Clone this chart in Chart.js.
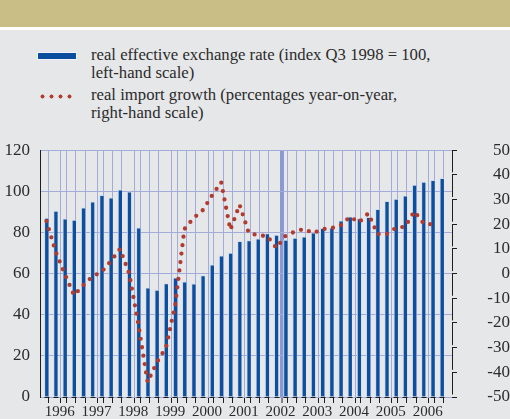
<!DOCTYPE html>
<html lang="en">
<head>
<meta charset="UTF-8" />
<title>Real effective exchange rate and real import growth</title>
<script src="https://cdn.jsdelivr.net/npm/chart.js"></script>
<style>
  html, body { margin:0; padding:0; }
  body { width:510px; height:419px; overflow:hidden; background:#e6e7e9; position:relative;
         font-family:"Liberation Serif", serif; color:#2b2b2b; }
  #band { position:absolute; left:0; top:0; width:510px; height:27px; background:#c9be86; border-bottom:3px solid #fff; }
  .key { position:absolute; left:38px; width:38px; }
  #keyBar { top:53px; height:6px; background:#0b4f9e; box-shadow:0 0 0 1px #f2f4f8; }
  #keyDots { top:94px; height:5px; background:radial-gradient(circle, #b23b30 1.7px, transparent 2.3px) 0 0 / 9px 5px repeat-x; }
  .txt { position:absolute; left:91px; font-size:16.7px; line-height:17.6px; }
  #box { position:absolute; left:0; top:130px; width:510px; height:300px; }
</style>
</head>
<body>
  <div id="band"></div>
  <div class="key" id="keyBar"></div>
  <div class="txt" style="top:46px">real effective exchange rate (index Q3 1998 = 100,<br>left-hand scale)</div>
  <div class="key" id="keyDots"></div>
  <div class="txt" style="top:86px">real import growth (percentages year-on-year,<br>right-hand scale)</div>
  <div id="box"><canvas id="c"></canvas></div>

<script>
  // quarterly data, 1996 Q1 .. 2006 Q4
  const years = ['1996','1997','1998','1999','2000','2001','2002','2003','2004','2005','2006'];
  // real effective exchange rate (left-hand scale)
  const rateIndex = [87, 90.4, 86.6, 86, 92, 94.9, 98, 96.8, 100.7, 99.8, 82.3, 53.1,
                     52, 55.2, 58, 56, 55, 59, 64.3, 68.7, 70, 75.7, 76.1, 76.9,
                     79.5, 78.7, 76.3, 77.3, 77.9, 79.8, 82, 82.3, 85.7, 87.6, 86.8, 87.3,
                     91.3, 95.2, 96.2, 97.8, 103, 104.5, 105.4, 106.3];
  // real import growth, % y-o-y (right-hand scale)
  const importGrowth = [21.3, 8.9, -0.2, -8.8, -4.7, -1.2, 0.7, 5, 10, 0, -20.7, -44,
                        -36, -30, -12.8, 18, 22.5, 25.7, 31.6, 37, 17.7, 27.9, 16.5, 15.5,
                        15.2, 10.4, 15.3, 17, 18.1, 16.4, 18, 18.4, 19.5, 23, 20.8, 24.4,
                        16, 16, 18.5, 19, 25.2, 20.4, 19.9];

  const grid = '#a3acd9';
  const ink = '#1e1e1e';
  const labelPos = 1.75;
  const isYear = v => !Number.isInteger(v);

  // the little bracket marks along the bottom and right-hand axes
  const axisMarks = {
    id: 'axisMarks',
    afterDraw(chart) {
      const { ctx, chartArea: a, scales: { x, y2 } } = chart;
      ctx.save();
      ctx.strokeStyle = ink;
      ctx.lineWidth = 1;
      ctx.beginPath();
      for (let k = 0; k < 44; k++) {
        const px = Math.round(x.getPixelForValue(k)) + 0.5;
        ctx.moveTo(px, Math.round(a.bottom) + 0.5);
        ctx.lineTo(px + 5, Math.round(a.bottom) + 0.5);
      }
      const rx = Math.round(a.right) + 0.5;
      for (let v = 50; v > -50; v -= 10) {
        ctx.moveTo(rx, y2.getPixelForValue(v));
        ctx.lineTo(rx, y2.getPixelForValue(v - 10) - 2.5);
      }
      ctx.stroke();
      ctx.restore();
    }
  };

  Chart.defaults.font.family = '"Liberation Serif", serif';
  Chart.defaults.font.size = 17;
  Chart.defaults.color = '#2b2b2b';

  new Chart(document.getElementById('c'), {
    type: 'bar',
    data: {
      datasets: [
        {
          type: 'line', yAxisID: 'y2', order: 0,
          data: importGrowth.map((v, i) => ({ x: i + 0.3, y: v })),
          borderColor: '#b23b30', borderWidth: 4.3, borderDash: [0, 8.5], borderCapStyle: 'round',
          pointRadius: 0, tension: 0, fill: false
        },
        {
          yAxisID: 'y', order: 1,
          data: rateIndex.map((v, i) => ({ x: i + 0.3, y: v })),
          backgroundColor: '#0b4f9e', borderColor: '#cddbef',
          borderWidth: { left: 1, top: 1, right: 0, bottom: 0 }, borderSkipped: false,
          barThickness: 4
        }
      ]
    },
    options: {
      responsive: true, maintainAspectRatio: false, animation: false,
      layout: { padding: { top: 20, left: 0, right: 0, bottom: 0 } },
      plugins: { legend: { display: false }, tooltip: { enabled: false } },
      scales: {
        x: {
          type: 'linear', min: 0, max: 44,
          afterBuildTicks: s => {
            const t = [];
            for (let k = 0; k <= 44; k++) t.push({ value: k });
            years.forEach((y, i) => t.push({ value: 4 * i + labelPos }));
            s.ticks = t.sort((a, b) => a.value - b.value);
          },
          afterFit: s => { s.height = 33; },
          ticks: {
            autoSkip: false, maxRotation: 0, padding: 0, font: { size: 15 },
            callback: v => isYear(v) ? years[Math.round((v - labelPos) / 4)] : ''
          },
          grid: {
            color: c => c.tick && isYear(c.tick.value) ? 'rgba(0,0,0,0)' : (c.tick && c.tick.value === 26 ? '#8c98d0' : grid),
            lineWidth: c => c.tick && c.tick.value === 26 ? 4 : 1,
            tickColor: c => c.tick && isYear(c.tick.value) ? 'rgba(0,0,0,0)' : ink,
            tickWidth: 1,
            tickLength: 6
          },
          border: { display: false }
        },
        y: {
          position: 'left', min: 0, max: 120,
          afterFit: s => { s.width = 40; },
          ticks: { stepSize: 20, padding: 10 },
          grid: { color: grid, drawTicks: false },
          border: { color: ink }
        },
        y2: {
          position: 'right', min: -50, max: 50,
          afterFit: s => { s.width = 58; },
          ticks: { stepSize: 10, padding: 6, crossAlign: 'far' },
          grid: { drawOnChartArea: false, tickLength: 5, tickColor: ink },
          border: { display: false }
        }
      }
    },
    plugins: [axisMarks]
  });
</script>
</body>
</html>
